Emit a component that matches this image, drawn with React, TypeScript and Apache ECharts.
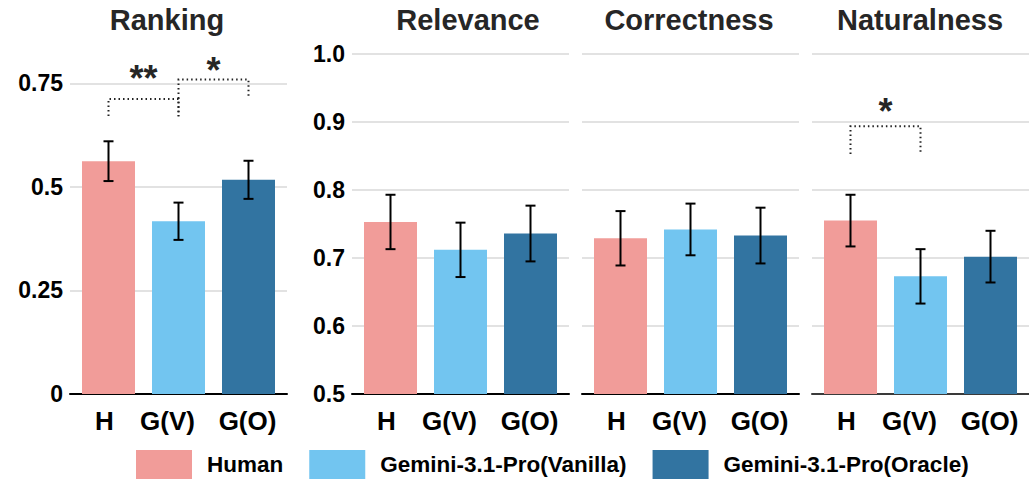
import React, { useEffect, useRef } from "react";
import * as echarts from "echarts";

const categories = ["H", "G(V)", "G(O)"];
const seriesNames = ["Human", "Gemini-3.1-Pro(Vanilla)", "Gemini-3.1-Pro(Oracle)"];
const seriesColors = ["#F19C99", "#72C5F0", "#3274A1"];
const panelTitles = ["Ranking", "Relevance", "Correctness", "Naturalness"];

const rankingMeans = [0.562, 0.417, 0.517];
const rankingErrors = [0.048, 0.045, 0.046];
const relevanceMeans = [0.753, 0.712, 0.736];
const relevanceErrors = [0.04, 0.04, 0.041];
const correctnessMeans = [0.729, 0.742, 0.733];
const correctnessErrors = [0.04, 0.038, 0.041];
const naturalnessMeans = [0.755, 0.673, 0.702];
const naturalnessErrors = [0.038, 0.04, 0.038];

// [x1, x2, top, leftEnd, rightEnd, starCenter]
const rankingBrackets = [
  [0, 1, 0.712, 0.671, 0.671, 0.776],
  [1, 2, 0.759, 0.67, 0.72, 0.795],
];
const rankingBracketLabels = ["**", "*"];
const relevanceBrackets: number[][] = [];
const relevanceBracketLabels: string[] = [];
const correctnessBrackets: number[][] = [];
const correctnessBracketLabels: string[] = [];
const naturalnessBrackets = [[0, 1, 0.8936, 0.853, 0.853, 0.925]];
const naturalnessBracketLabels = ["*"];

const panels = [
  { means: rankingMeans, errors: rankingErrors, brackets: rankingBrackets, labels: rankingBracketLabels },
  { means: relevanceMeans, errors: relevanceErrors, brackets: relevanceBrackets, labels: relevanceBracketLabels },
  { means: correctnessMeans, errors: correctnessErrors, brackets: correctnessBrackets, labels: correctnessBracketLabels },
  { means: naturalnessMeans, errors: naturalnessErrors, brackets: naturalnessBrackets, labels: naturalnessBracketLabels },
];

const gridLefts = [70, 352, 582, 812];
const titleCenters = [167, 468, 689, 920];
const labelKeys = ["h", "v", "o"];
const FONT = "'Liberation Sans', Arial, sans-serif";

export default function App() {
  const ref = useRef<HTMLDivElement>(null);
  useEffect(() => {
    if (!ref.current) return;
    const chart = echarts.init(ref.current, null, { renderer: "svg" });

    const grid = gridLefts.map((l) => ({ left: l, top: 54, width: 217, height: 340, containLabel: false }));

    const xLabelBase = { fontFamily: FONT, fontWeight: "bold", fontSize: 26, color: "#000" };
    const xAxis = panels.map((_, i) => ({
      type: "value",
      gridIndex: i,
      min: -0.55,
      max: 2.55,
      axisLine: { show: true, onZero: false, lineStyle: { color: i === 3 ? "#3a3a3a" : "#000", width: 2 } },
      axisTick: { show: false },
      splitLine: { show: false },
      axisLabel: {
        customValues: [0, 1, 2],
        formatter: (v: number) => {
          const k = Math.round(v);
          return "{" + labelKeys[k] + "|" + categories[k] + "}";
        },
        ...xLabelBase,
        margin: 14,
        rich: {
          h: { ...xLabelBase, padding: [0, 8, 0, 0] },
          v: { ...xLabelBase, padding: [0, 22, 0, 0] },
          o: { ...xLabelBase, padding: [0, 2, 0, 0] },
        },
      },
    }));

    const yAxis = panels.map((_, i) => {
      const ranking = i === 0;
      return {
        type: "value",
        gridIndex: i,
        min: ranking ? 0 : 0.5,
        max: ranking ? 0.8207 : 1.0,
        interval: ranking ? 0.25 : 0.1,
        axisLine: { show: false },
        axisTick: { show: false },
        splitLine: {
          show: true,
          showMaxLine: !ranking,
          lineStyle: { color: "#d9d9d9", width: 1.5 },
        },
        axisLabel: {
          show: i <= 1,
          showMaxLabel: !ranking,
          formatter: (v: number) => (ranking ? String(v) : v.toFixed(1)),
          fontFamily: FONT,
          fontWeight: "bold",
          fontSize: 23,
          color: "#000",
          margin: 7,
        },
      };
    });

    const series: any[] = [];
    panels.forEach((p, i) => {
      p.means.forEach((m, g) => {
        series.push({
          type: "bar",
          name: seriesNames[g],
          xAxisIndex: i,
          yAxisIndex: i,
          data: [[g, m]],
          barWidth: 53,
          barGap: "-100%",
          itemStyle: { color: seriesColors[g] },
          z: 2,
        });
      });
      series.push({
        type: "custom",
        xAxisIndex: i,
        yAxisIndex: i,
        z: 5,
        data: p.means.map((m, g) => [g, m, p.errors[g]]),
        encode: { x: 0, y: 1 },
        renderItem: (params: any, api: any) => {
          const x = api.value(0);
          const m = api.value(1);
          const e = api.value(2);
          const top = api.coord([x, m + e]);
          const bot = api.coord([x, m - e]);
          const style = { stroke: "#000", lineWidth: 2 };
          const hw = 5;
          return {
            type: "group",
            children: [
              { type: "line", shape: { x1: top[0], y1: top[1], x2: bot[0], y2: bot[1] }, style },
              { type: "line", shape: { x1: top[0] - hw, y1: top[1], x2: top[0] + hw, y2: top[1] }, style },
              { type: "line", shape: { x1: bot[0] - hw, y1: bot[1], x2: bot[0] + hw, y2: bot[1] }, style },
            ],
          };
        },
      });
      if (p.brackets.length) {
        const labels = p.labels;
        series.push({
          type: "custom",
          xAxisIndex: i,
          yAxisIndex: i,
          z: 6,
          clip: false,
          data: p.brackets,
          encode: { x: 0, y: 2 },
          renderItem: (params: any, api: any) => {
            const x1 = api.value(0);
            const x2 = api.value(1);
            const t = api.value(2);
            const l = api.value(3);
            const r = api.value(4);
            const s = api.value(5);
            const pL = api.coord([x1, l]);
            const pTL = api.coord([x1, t]);
            const pTR = api.coord([x2, t]);
            const pR = api.coord([x2, r]);
            const pS = api.coord([(x1 + x2) / 2, s]);
            return {
              type: "group",
              children: [
                {
                  type: "polyline",
                  shape: { points: [pL, pTL, pTR, pR] },
                  style: { stroke: "#222", lineWidth: 2, lineDash: [1.5, 3], fill: null },
                },
                {
                  type: "text",
                  x: pS[0],
                  y: pS[1] + 6,
                  style: {
                    text: labels[params.dataIndex],
                    fontFamily: FONT,
                    fontWeight: "bold",
                    fontSize: 36,
                    fill: "#262626",
                    align: "center",
                    verticalAlign: "middle",
                  },
                },
              ],
            };
          },
        });
      }
    });

    const option: any = {
      animation: false,
      backgroundColor: "#fff",
      grid,
      xAxis,
      yAxis,
      series,
      legend: {
        data: seriesNames,
        left: 136,
        top: 450,
        padding: 0,
        icon: "rect",
        itemWidth: 56,
        itemHeight: 29,
        itemGap: 26,
        selectedMode: false,
        textStyle: {
          fontFamily: FONT,
          fontWeight: "bold",
          fontSize: 22.5,
          color: "#000",
          padding: [0, 0, 0, 10],
        },
      },
      graphic: panelTitles.map((t, i) => ({
        type: "text",
        x: titleCenters[i],
        y: 20,
        style: {
          text: t,
          fontFamily: FONT,
          fontWeight: "bold",
          fontSize: 29,
          fill: "#262626",
          align: "center",
          verticalAlign: "middle",
        },
      })),
    };
    chart.setOption(option);
    return () => chart.dispose();
  }, []);

  return (
    <div
      ref={ref}
      style={{ position: "fixed", left: 0, top: 0, width: 1029, height: 490, background: "#fff" }}
    />
  );
}
